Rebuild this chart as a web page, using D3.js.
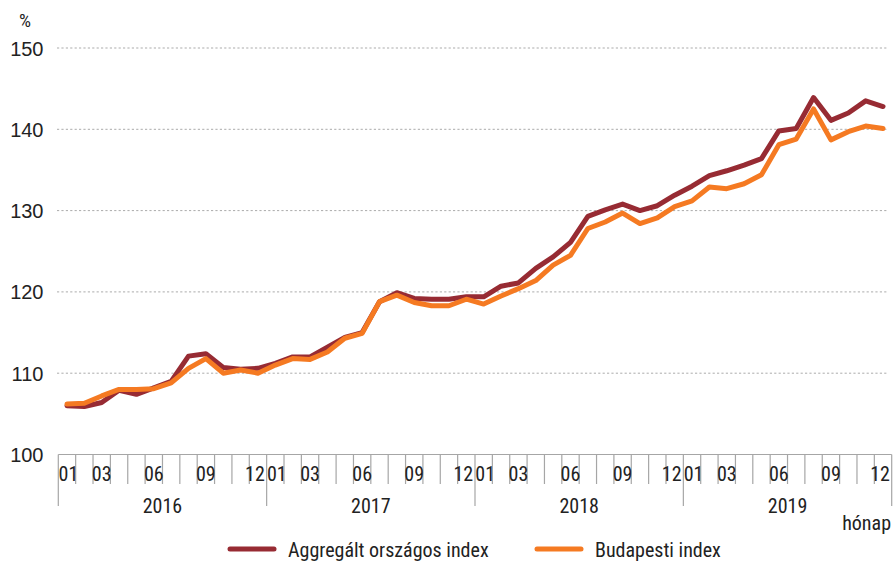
<!DOCTYPE html>
<html>
<head>
<meta charset="utf-8">
<script src="https://cdn.jsdelivr.net/npm/d3@7"></script>
<style>
  html, body { margin: 0; padding: 0; background: #fff; }
  svg { display: block; }
  text { font-family: "Liberation Sans Narrow", "Arial Narrow", "Roboto Condensed", sans-serif; fill: #222; }
</style>
</head>
<body>
<svg id="chart" width="896" height="562"></svg>
<script>
// Years and months on the category axis
const years = ["2016", "2017", "2018", "2019"];
const months = ["01","02","03","04","05","06","07","08","09","10","11","12"];
const labelledMonths = ["01", "03", "06", "09", "12"];

// Y axis ticks (%)
const yTicks = [100, 110, 120, 130, 140, 150];

// Series names
const seriesNames = ["Aggregált országos index", "Budapesti index"];

// Aggregált országos index, monthly, 2016-01 … 2019-12
const aggregalt = [
  106.0, 105.9, 106.4, 107.9, 107.4, 108.2, 109.0, 112.1, 112.4, 110.7, 110.5, 110.6,
  111.2, 112.0, 112.0, 113.2, 114.4, 115.0, 118.8, 119.9, 119.2, 119.1, 119.1, 119.4,
  119.4, 120.7, 121.1, 122.9, 124.3, 126.1, 129.3, 130.1, 130.8, 130.0, 130.6, 131.9,
  133.0, 134.3, 134.9, 135.6, 136.4, 139.8, 140.1, 143.9, 141.1, 142.0, 143.5, 142.8
];

// Budapesti index, monthly, 2016-01 … 2019-12
const budapesti = [
  106.2, 106.3, 107.2, 108.0, 108.0, 108.1, 108.8, 110.6, 111.8, 110.0, 110.4, 110.0,
  111.0, 111.8, 111.7, 112.6, 114.3, 114.9, 118.8, 119.6, 118.7, 118.3, 118.3, 119.1,
  118.5, 119.5, 120.4, 121.4, 123.3, 124.5, 127.8, 128.6, 129.7, 128.4, 129.1, 130.5,
  131.2, 132.9, 132.7, 133.3, 134.4, 138.1, 138.8, 142.5, 138.7, 139.7, 140.4, 140.1
];

const colors = ["#972b33", "#f57a22"];
const FS = 20;

const svg = d3.select("#chart");
const margin = { left: 58.3, right: 4.3, top: 48, bottom: 107.5 };
const W = 896, H = 562;
const x0 = margin.left, x1 = W - margin.right;
const yTop = margin.top, yBottom = H - margin.bottom;

const keys = [];
years.forEach(y => months.forEach(m => keys.push(y + "-" + m)));

const x = d3.scaleBand().domain(keys).range([x0, x1]).padding(0);
const y = d3.scaleLinear().domain([100, 150]).range([yBottom, yTop]);

// Dotted horizontal gridlines
svg.append("g")
  .selectAll("line")
  .data(yTicks.filter(t => t > 100))
  .join("line")
  .attr("x1", 57).attr("x2", 887)
  .attr("y1", d => y(d)).attr("y2", d => y(d))
  .attr("stroke", "#ababab")
  .attr("stroke-width", 1)
  .attr("stroke-dasharray", "2.2,2.2");

// Y axis labels
const yAxis = d3.axisLeft(y).tickValues(yTicks).tickSize(0).tickPadding(0);
const gy = svg.append("g").attr("transform", `translate(${43.5},0)`).call(yAxis);
gy.select(".domain").remove();
gy.selectAll("text")
  .attr("font-size", FS)
  .attr("fill", "#222")
  .attr("dy", "0.35em")
  .style("font-family", '"Liberation Sans Narrow", "Arial Narrow", sans-serif');

svg.append("text").attr("x", 19).attr("y", 27).attr("font-size", FS - 1).text("%");

// X axis: baseline, month ticks at band edges, year separators
const axisG = svg.append("g");
axisG.append("line")
  .attr("x1", x0).attr("x2", x1)
  .attr("y1", yBottom).attr("y2", yBottom)
  .attr("stroke", "#a6a6a6").attr("stroke-width", 1.2);

const edges = keys.map(k => x(k)).concat([x1]);
axisG.selectAll("line.tick")
  .data(edges)
  .join("line")
  .attr("class", "tick")
  .attr("x1", d => d).attr("x2", d => d)
  .attr("y1", yBottom)
  .attr("y2", (d, i) => (i % 12 === 0 ? 506 : 484))
  .attr("stroke", "#a6a6a6").attr("stroke-width", 1.2);

// Month labels; December sits a little left and January a little right
// so adjacent "12" and "01" stay apart
const nudge = { "12": -3, "01": 1.5 };
axisG.selectAll("text.month")
  .data(keys.filter(k => labelledMonths.includes(k.slice(5))))
  .join("text")
  .attr("class", "month")
  .attr("x", d => x(d) + x.bandwidth() / 2 + (nudge[d.slice(5)] || 0))
  .attr("y", 480.5)
  .attr("text-anchor", "middle")
  .attr("font-size", FS)
  .text(d => d.slice(5));

// Year labels
axisG.selectAll("text.year")
  .data(years)
  .join("text")
  .attr("class", "year")
  .attr("x", d => (x(d + "-01") + x(d + "-12") + x.bandwidth()) / 2)
  .attr("y", 512.5)
  .attr("text-anchor", "middle")
  .attr("font-size", FS)
  .text(d => d);

svg.append("text")
  .attr("x", 891).attr("y", 530)
  .attr("text-anchor", "end")
  .attr("font-size", FS)
  .text("hónap");

// Series lines
const line = d3.line()
  .x((d, i) => x(keys[i]) + x.bandwidth() / 2)
  .y(d => y(d));

[aggregalt, budapesti].forEach((s, i) => {
  svg.append("path")
    .datum(s)
    .attr("d", line)
    .attr("fill", "none")
    .attr("stroke", colors[i])
    .attr("stroke-width", 5)
    .attr("stroke-linejoin", "round")
    .attr("stroke-linecap", "round");
});

// Legend
const legend = [
  { name: seriesNames[0], color: colors[0], x: 228 },
  { name: seriesNames[1], color: colors[1], x: 535 }
];
const lg = svg.append("g");
legend.forEach(d => {
  lg.append("line")
    .attr("x1", d.x + 2).attr("x2", d.x + 46)
    .attr("y1", 549).attr("y2", 549)
    .attr("stroke", d.color).attr("stroke-width", 5)
    .attr("stroke-linecap", "round");
  lg.append("text")
    .attr("x", d.x + 60).attr("y", 557)
    .attr("font-size", FS)
    .text(d.name);
});
</script>
</body>
</html>
